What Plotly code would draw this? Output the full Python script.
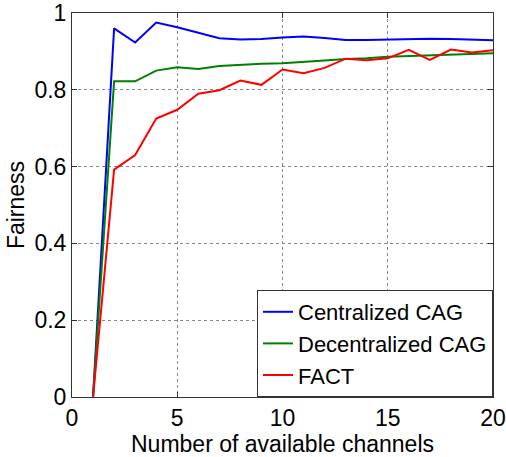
import plotly.graph_objects as go

channels = list(range(1, 21))
centralized = [0, 0.960, 0.923, 0.975, 0.963, 0.949, 0.934, 0.931, 0.932, 0.936, 0.939,
               0.935, 0.930, 0.930, 0.931, 0.932, 0.933, 0.932, 0.930, 0.929]
decentralized = [0, 0.822, 0.822, 0.850, 0.859, 0.854, 0.862, 0.865, 0.868, 0.869, 0.872,
                 0.876, 0.880, 0.882, 0.886, 0.888, 0.889, 0.891, 0.893, 0.895]
fact = [0, 0.592, 0.630, 0.725, 0.748, 0.790, 0.799, 0.824, 0.813, 0.853, 0.843,
        0.857, 0.881, 0.877, 0.882, 0.904, 0.878, 0.905, 0.897, 0.903]

series = [("Centralized CAG", centralized, "#0000ff"),
          ("Decentralized CAG", decentralized, "#008000"),
          ("FACT", fact, "#ff0000")]

fig = go.Figure()
for name, vals, col in series:
    fig.add_trace(go.Scatter(x=channels, y=vals, mode="lines", name=name,
                             line=dict(color=col, width=2)))

font = dict(family="Liberation Sans, Arial, sans-serif", size=23, color="black")
axis_common = dict(showgrid=True, gridcolor="#888888", griddash="dot", gridwidth=1,
                   showline=True, linecolor="#333333", linewidth=1, mirror="ticks",
                   ticks="inside", ticklen=5, tickcolor="#333333", zeroline=False,
                   tickfont=font, automargin=False)
fig.update_xaxes(range=[0, 20], tickvals=[0, 5, 10, 15, 20],
                 title=dict(text="Number of available channels", font=font, standoff=2),
                 **axis_common)
fig.update_yaxes(range=[0, 1], tickvals=[0, 0.2, 0.4, 0.6, 0.8, 1],
                 ticktext=["0", "0.2", "0.4", "0.6", "0.8", "1"],
                 title=dict(text="Fairness", font=font, standoff=3),
                 **axis_common)
fig.update_layout(
    width=506, height=457,
    margin=dict(l=72, r=13, t=13, b=60, autoexpand=False),
    plot_bgcolor="white", paper_bgcolor="white",
    font=font,
    showlegend=True,
    legend=dict(x=1, y=0, xanchor="right", yanchor="bottom",
                bgcolor="white", bordercolor="#333333", borderwidth=1,
                font=dict(family=font["family"], size=22, color="black"),
                itemwidth=30, tracegroupgap=0),
)
fig.write_html("out.html", config={"displayModeBar": False},
               post_script="document.body.style.margin='0px';document.body.style.overflow='hidden';")
